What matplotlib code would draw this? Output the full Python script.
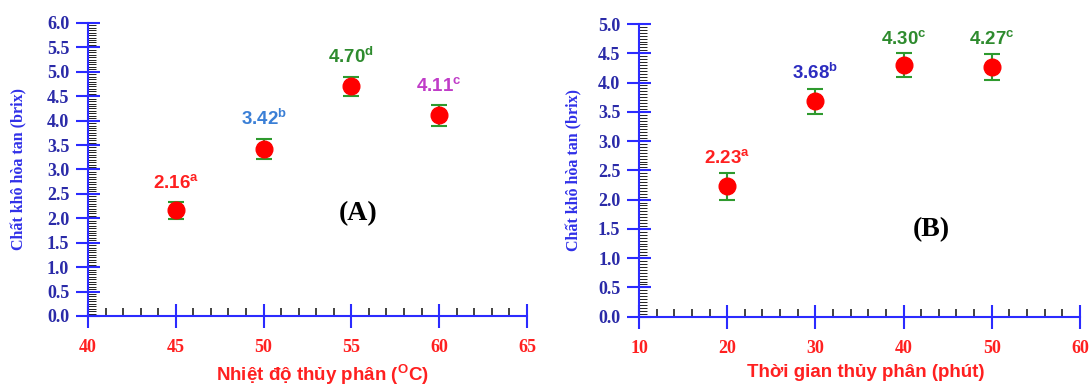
import matplotlib.pyplot as plt
from matplotlib.ticker import MultipleLocator
import numpy as np

plt.rcParams['mathtext.fontset'] = 'custom'
plt.rcParams['mathtext.rm'] = 'Liberation Sans:bold'
plt.rcParams['mathtext.bf'] = 'Liberation Sans:bold'
plt.rcParams['mathtext.it'] = 'Liberation Sans:bold'

# panel A: temperature
temp = [45, 50, 55, 60]
brix_a = [2.16, 3.42, 4.70, 4.11]
err_a = [0.18, 0.21, 0.19, 0.21]
lab_a = ['2.16', '3.42', '4.70', '4.11']
sup_a = ['a', 'b', 'd', 'c']
col_a = ['#ff2020', '#3a7fd6', '#2e8b2e', '#c03cc8']

# panel B: time
time = [20, 30, 40, 50]
brix_b = [2.23, 3.68, 4.30, 4.27]
err_b = [0.23, 0.21, 0.20, 0.22]
lab_b = ['2.23', '3.68', '4.30', '4.27']
sup_b = ['a', 'b', 'c', 'c']
col_b = ['#ff2020', '#2c2cc0', '#2e8b2e', '#2e8b2e']

ylabel = 'Chất khô hòa tan (brix)'
blue = '#2b2bff'
tickblue = '#2a2aa8'
red = '#ff2020'

fig = plt.figure(figsize=(10.89, 3.89), dpi=100)
axA = fig.add_axes([0.0808, 0.1877, 0.4031, 0.7533])
axB = fig.add_axes([0.5868, 0.1859, 0.4049, 0.7524])


def style(ax, xlim, ylim, xmaj, xmin, ymaj):
    ax.set_xlim(*xlim)
    ax.set_ylim(*ylim)
    ax.spines['top'].set_visible(False)
    ax.spines['right'].set_visible(False)
    for s in ('left', 'bottom'):
        ax.spines[s].set_color(blue)
        ax.spines[s].set_linewidth(1.5)
    ax.xaxis.set_major_locator(MultipleLocator(xmaj))
    ax.xaxis.set_minor_locator(MultipleLocator(xmin))
    ax.yaxis.set_major_locator(MultipleLocator(ymaj))
    ax.yaxis.set_minor_locator(MultipleLocator(0.05))
    ax.yaxis.set_major_formatter('{x:.1f}')
    ax.tick_params(axis='both', which='major', direction='inout', length=17,
                   width=1.5, color=blue)
    ax.tick_params(axis='y', which='major', pad=5, labelcolor=tickblue)
    ax.tick_params(axis='x', which='major', pad=8, labelcolor=red)
    ax.tick_params(axis='y', which='minor', direction='in', length=6,
                   width=0.7, color='#222222')
    ax.tick_params(axis='x', which='minor', direction='in', length=6,
                   width=1.2, color='#222222')
    for t in ax.get_xticklabels() + ax.get_yticklabels():
        t.set_fontfamily('Liberation Serif')
        t.set_fontweight('bold')
        t.set_fontsize(13)
    ax.set_ylabel(ylabel, fontfamily='Liberation Serif', fontweight='bold',
                  fontsize=11.5, color='#3030e8')


def draw(ax, xs, ys, es, labs, sups, cols, off):
    ax.errorbar(xs, ys, yerr=es, fmt='o', color='red', markersize=12,
                ecolor='#2e9a2e', elinewidth=1.5, capsize=6, capthick=1.5,
                zorder=3, clip_on=False)
    for x, y, e, l, s, c in zip(xs, ys, es, labs, sups, cols):
        ax.annotate('$\\mathrm{' + l + '^{' + s + '}}$', (x, y + e),
                    xytext=(0, off), textcoords='offset points',
                    ha='center', va='bottom', color=c, fontsize=13.5)


style(axA, (40, 65), (0, 6.0), 5, 1, 0.5)
style(axB, (10, 60), (0, 5.0), 10, 2, 0.5)
draw(axA, temp, brix_a, err_a, lab_a, sup_a, col_a, 7)
draw(axB, time, brix_b, err_b, lab_b, sup_b, col_b, 4)

axA.set_xlabel('Nhiệt độ thủy phân ($^{O}$C)', fontfamily='Liberation Sans',
               fontweight='bold', fontsize=13.5, color=red)
axB.set_xlabel('Thời gian thủy phân (phút)', fontfamily='Liberation Sans',
               fontweight='bold', fontsize=13.5, color=red)
axA.xaxis.set_label_coords(0.533, -0.16)
axB.xaxis.set_label_coords(0.515, -0.16)
axA.yaxis.set_label_coords(-0.137, 0.5)
axB.yaxis.set_label_coords(-0.129, 0.5)

axA.text(0.615, 0.35, '(A)', transform=axA.transAxes, ha='center',
         va='center', fontfamily='Liberation Serif', fontweight='bold',
         fontsize=20)
axB.text(0.664, 0.296, '(B)', transform=axB.transAxes, ha='center',
         va='center', fontfamily='Liberation Serif', fontweight='bold',
         fontsize=20)

fig.savefig('out.png', dpi=100)
